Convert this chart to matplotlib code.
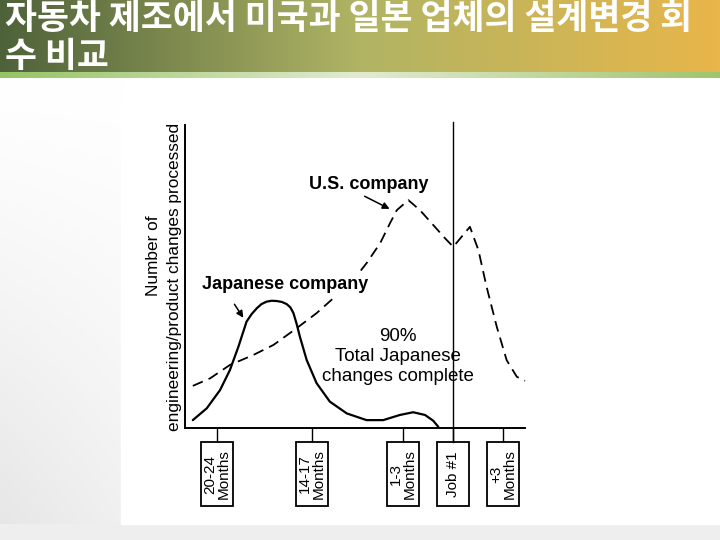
import numpy as np
import matplotlib
matplotlib.use("Agg")
import matplotlib.pyplot as plt
from matplotlib.patches import Rectangle
import matplotlib.transforms as mtrans

# ---------------- data ----------------
title_line1 = "자동차 제조에서 미국과 일본 업체의 설계변경 회"
title_line2 = "수 비교"

jp_x = [2.3, 6.4, 10.3, 13.2, 15.7, 18.1, 19.6, 21.1, 22.5, 24.0, 25.5, 27.0, 28.5, 29.9, 31.0, 31.9, 32.8, 33.8, 35.8,
        38.7, 42.6, 47.6, 53.4, 58.3, 63.2, 67.1, 70.6, 73.0, 74.5]
jp_y = [2.6, 6.5, 12.5, 19.1, 26.8, 35.1, 37.6, 39.5, 40.9, 41.7, 42.0, 41.9, 41.6, 40.9, 39.8, 37.9, 34.5, 30.1, 22.4,
        14.8, 8.7, 4.8, 2.6, 2.6, 4.3, 5.2, 4.3, 2.4, 0.4]

us_x = [2.3, 7.4, 13.2, 20.1, 26.0, 32.8, 38.7, 43.6, 49.5, 53.4, 57.4, 60.3, 62.3,
        65.7, 69.1, 73.0, 76.5, 78.9, 83.8, 86.3, 88.7, 91.7, 94.6, 97.6, 100.0]
us_y = [13.9, 16.4, 20.8, 24.1, 27.4, 32.9, 37.9, 42.8, 48.8, 54.4, 61.0, 67.6, 71.9,
        75.2, 71.9, 67.0, 62.6, 59.8, 66.4, 58.7, 46.6, 33.4, 22.4, 16.9, 15.6]

tick_pos = [9.4, 37.4, 64.1, 78.8, 93.5]
tick_labels = ["20-24\nMonths", "14-17\nMonths", "1-3\nMonths", "Job #1", "+3\nMonths"]
job1_pos = 78.8

ylabel1 = "Number of"
ylabel2 = "engineering/product changes processed"
us_label = "U.S. company"
jp_label = "Japanese company"
note = "90%\nTotal Japanese\nchanges complete"

W, H = 720, 540
fig = plt.figure(figsize=(W / 100, H / 100), dpi=100)

# ---------------- slide background ----------------
bg = fig.add_axes([0, 0, 1, 1])
bg.set_xlim(0, W)
bg.set_ylim(H, 0)
bg.axis("off")
bg.add_patch(Rectangle((0, 0), W, H, color="white", zorder=0))

# left/bottom grey texture area
gy = np.linspace(0, 1, 200)[:, None]
gx = np.linspace(0, 1, 60)[None, :]
grey = 1 - 0.10 * (gy ** 1.2) * (1 - 0.4 * gx)
img = np.dstack([grey, grey, grey])
bg.imshow(img, extent=(0, 125, H, 78), aspect="auto", zorder=1)
bg.add_patch(Rectangle((0, 524), W, 16, color="#eeeeee", zorder=1))

# title band gradient
t = np.linspace(0, 1, 400)
c_left = np.array([78, 98, 58]) / 255
c_mid = np.array([176, 180, 100]) / 255
c_right = np.array([232, 182, 74]) / 255
cols = np.where(t[:, None] < 0.5,
                c_left + (c_mid - c_left) * (t[:, None] / 0.5),
                c_mid + (c_right - c_mid) * ((t[:, None] - 0.5) / 0.5))
band = np.repeat(cols[None, :, :], 10, axis=0)
bg.imshow(band, extent=(0, W, 72, 0), aspect="auto", zorder=2)

# thin green strip
s_l = np.array([150, 196, 100]) / 255
s_m = np.array([225, 235, 210]) / 255
s_r = np.array([160, 196, 110]) / 255
scol = np.where(t[:, None] < 0.5,
                s_l + (s_m - s_l) * (t[:, None] / 0.5),
                s_m + (s_r - s_m) * ((t[:, None] - 0.5) / 0.5))
strip = np.repeat(scol[None, :, :], 4, axis=0)
bg.imshow(strip, extent=(0, W, 78, 72), aspect="auto", zorder=2)

# white picture area
bg.add_patch(Rectangle((121, 100), W - 121, 424, color="white", zorder=3))

bg.text(5, 19, title_line1, color="white", fontsize=25, va="center", ha="left",
        family=["Noto Sans CJK KR", "DejaVu Sans"], fontweight="bold", zorder=5)
bg.text(5, 56, title_line2, color="white", fontsize=25, va="center", ha="left",
        family=["Noto Sans CJK KR", "DejaVu Sans"], fontweight="bold", zorder=5)

# ---------------- chart ----------------
FONT = ["Liberation Sans", "DejaVu Sans"]
ax = fig.add_axes([185 / W, 1 - 428 / H, 340 / W, 303 / H])
ax.set_xlim(0, 100)
ax.set_ylim(0, 100)
ax.patch.set_alpha(0)
for side in ("top", "right"):
    ax.spines[side].set_visible(False)
for side in ("left", "bottom"):
    ax.spines[side].set_linewidth(1.4)
ax.set_yticks([])
ax.set_xticks(tick_pos)
ax.set_xticklabels([])
ax.tick_params(axis="x", length=10, width=1.0, direction="out")

ax.plot(jp_x, jp_y, color="black", lw=1.6, solid_capstyle="round",
        solid_joinstyle="round", clip_on=False, zorder=2)
ax.plot(us_x, us_y, color="black", lw=1.3, linestyle=(0, (6, 3.5)), clip_on=False, zorder=2)

ax.axvline(job1_pos, ymin=-14 / 303, ymax=1 + 3 / 303, color="black", lw=1.0, clip_on=False)

ax.annotate("", xy=(60.9, 71.9), xytext=(52.1, 76.9),
            arrowprops=dict(arrowstyle="-|>", color="black", lw=1.1, mutation_scale=10))
ax.annotate("", xy=(17.6, 35.6), xytext=(14.1, 41.6),
            arrowprops=dict(arrowstyle="-|>", color="black", lw=1.1, mutation_scale=10))

ax.text(54.1, 80.2, us_label, fontsize=13, fontweight="bold", ha="center", va="center", family=FONT)
ax.text(29.4, 47.2, jp_label, fontsize=13, fontweight="bold", ha="center", va="center", family=FONT,
        zorder=5, bbox=dict(facecolor="white", edgecolor="none", pad=1.5))
ax.text(62.6, 23.6, note, fontsize=13.5, ha="center", va="center", family=FONT, linespacing=1.2)

ax.text(-9.4, 56.8, ylabel1, rotation=90, fontsize=12.4, ha="center", va="center", family=FONT)
ax.text(-3.0, 49.8, ylabel2, rotation=90, fontsize=12.4, ha="center", va="center", family=FONT)

# label boxes under the ticks
tr = mtrans.blended_transform_factory(ax.transData, fig.transFigure)
bw = 9.6
for xp, lab in zip(tick_pos, tick_labels):
    ax.add_patch(Rectangle((xp - bw / 2, 1 - 506 / H), bw, 64 / H, transform=tr,
                           fill=False, edgecolor="black", lw=1.3, clip_on=False))
    ax.text(xp, 1 - 474 / H, lab, transform=tr, rotation=90, ha="center", va="center",
            fontsize=11, family=FONT, linespacing=1.0)

fig.savefig("out.png", dpi=100)
